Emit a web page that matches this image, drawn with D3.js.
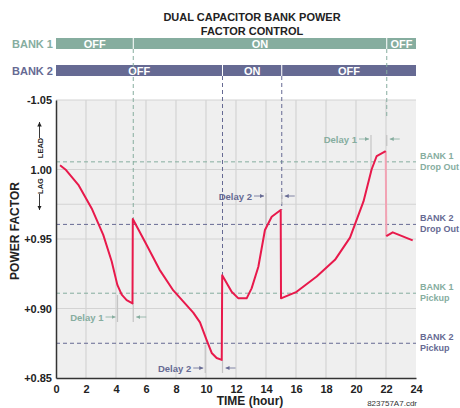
<!DOCTYPE html>
<html>
<head>
<meta charset="utf-8">
<script src="https://cdn.jsdelivr.net/npm/d3@7"></script>
<style>
  body { margin: 0; background: #fff; }
  svg { display: block; font-family: "Liberation Sans", Arial, sans-serif; }
</style>
</head>
<body>
<svg id="chart" width="460" height="408"></svg>
<script>
// Curve before the bank 1 drop out at 22h
const hoursA = [0.27, 0.67, 1.49, 2.38, 3.15, 3.71, 4.09, 4.38, 4.71, 5.1, 5.12, 5.93, 6.9, 7.82, 9.15, 9.6, 10.05, 10.38, 10.71, 11.05,
  11.08, 11.71, 12.16, 12.71, 13.04, 13.49, 13.93, 14.38, 14.98, 15.0, 16.04, 17.38, 18.6, 19.6, 20.5, 21.04, 21.38, 21.98];
const pfA = [1.003, 0.9996, 0.989, 0.972, 0.953, 0.934, 0.917, 0.910, 0.906, 0.9037, 0.9644, 0.948, 0.928, 0.913, 0.897, 0.890, 0.877, 0.868, 0.8644, 0.863,
  0.924, 0.912, 0.9073, 0.9073, 0.9145, 0.930, 0.9565, 0.966, 0.9709, 0.9073, 0.912, 0.923, 0.935, 0.951, 0.977, 1.0, 1.0097, 1.0133];
// Curve after the drop
const hoursB = [22.02, 22.45, 23.78];
const pfB = [0.952, 0.9548, 0.949];

// threshold levels
const thresholdNames = [["BANK 1", "Drop Out"], ["BANK 2", "Drop Out"], ["BANK 1", "Pickup"], ["BANK 2", "Pickup"]];
const thresholdValues = [1.0055, 0.9605, 0.911, 0.875];
const thresholdBank = [1, 2, 1, 2];

// bank state bars
const bank1Starts = [0, 5.15, 22.05];
const bank1Ends = [5.15, 22.05, 24];
const bank1States = ["OFF", "ON", "OFF"];
const bank2Starts = [0, 11.1, 15.05];
const bank2Ends = [11.1, 15.05, 24];
const bank2States = ["OFF", "ON", "OFF"];

// delays: [start, end]
const delayNames = ["Delay 1", "Delay 2", "Delay 2", "Delay 1"];
const delayStarts = [4.1, 9.95, 14.0, 21.0];
const delayEnds = [5.15, 11.1, 15.05, 22.05];

const xTicks = [0, 2, 4, 6, 8, 10, 12, 14, 16, 18, 20, 22, 24];
const yTicks = [1.05, 1.0, 0.95, 0.90, 0.85];
const yTickLabels = ["-1.05", "1.00", "+0.95", "+0.90", "+0.85"];
const yGrid = [1.05, 1.0, 0.975, 0.95, 0.90];

const GREEN = "#86ad9f";
const BLUE = "#666a93";
const RED = "#e8194b";
const GRID = "#d3d3d3";

const svg = d3.select("#chart");
const margin = { top: 100, right: 44, bottom: 30, left: 56 };
const width = 460 - margin.left - margin.right;
const height = 408 - margin.top - margin.bottom;

const x = d3.scaleLinear().domain([0, 24]).range([margin.left, margin.left + width]);
const y = d3.scaleLinear().domain([0.85, 1.05]).range([margin.top + height, margin.top]);

// Title
svg.append("text").attr("x", 252).attr("y", 21).attr("text-anchor", "middle")
  .attr("font-size", 11).attr("font-weight", "bold").attr("fill", "#222")
  .text("DUAL CAPACITOR BANK POWER");
svg.append("text").attr("x", 252).attr("y", 35).attr("text-anchor", "middle")
  .attr("font-size", 11).attr("font-weight", "bold").attr("fill", "#222")
  .text("FACTOR CONTROL");

// Plot background + grid
svg.append("rect").attr("x", x(0)).attr("y", y(1.05)).attr("width", width).attr("height", height).attr("fill", "#efefef");

svg.append("g").selectAll("line").data(xTicks.slice(1, -1)).join("line")
  .attr("x1", (d) => x(d)).attr("x2", (d) => x(d))
  .attr("y1", y(1.05)).attr("y2", y(0.85))
  .attr("stroke", GRID).attr("stroke-width", 1.2);

svg.append("g").selectAll("line").data(yGrid).join("line")
  .attr("x1", x(0)).attr("x2", x(24))
  .attr("y1", (d) => y(d)).attr("y2", (d) => y(d))
  .attr("stroke", GRID).attr("stroke-width", 1.2);

// Bank bars
function drawBank(starts, ends, states, top, color, label) {
  const g = svg.append("g");
  g.append("text").attr("x", 12).attr("y", top + 10).attr("font-size", 11.5).attr("font-weight", "bold")
    .attr("textLength", 41).attr("lengthAdjust", "spacingAndGlyphs")
    .attr("fill", color).text(label);
  g.selectAll("rect").data(starts).join("rect")
    .attr("x", (d) => x(d)).attr("y", top)
    .attr("width", (d, i) => x(ends[i]) - x(d)).attr("height", 11)
    .attr("fill", color);
  g.selectAll(".state").data(states).join("text")
    .attr("x", (d, i) => (x(starts[i]) + x(ends[i])) / 2).attr("y", top + 9.5)
    .attr("text-anchor", "middle").attr("font-size", 11).attr("font-weight", "bold")
    .attr("fill", "#fff").text((d) => d);
  g.selectAll(".sep").data(starts.slice(1)).join("line")
    .attr("x1", (d) => x(d)).attr("x2", (d) => x(d))
    .attr("y1", top).attr("y2", top + 11)
    .attr("stroke", "#fff").attr("stroke-width", 1);
}
drawBank(bank1Starts, bank1Ends, bank1States, 38, GREEN, "BANK 1");
drawBank(bank2Starts, bank2Ends, bank2States, 65, BLUE, "BANK 2");

// Threshold dashed lines and labels
thresholdValues.forEach((v, i) => {
  const c = thresholdBank[i] === 1 ? GREEN : BLUE;
  svg.append("line").attr("x1", x(0)).attr("x2", x(24)).attr("y1", y(v)).attr("y2", y(v))
    .attr("stroke", c).attr("stroke-width", 1).attr("stroke-dasharray", "4,3");
  const t = svg.append("text").attr("x", 420).attr("font-size", 9).attr("font-weight", "bold").attr("fill", c);
  t.append("tspan").attr("x", 420).attr("y", y(v) - 3).text(thresholdNames[i][0]);
  t.append("tspan").attr("x", 420).attr("y", y(v) + 8).text(thresholdNames[i][1]);
});

// Vertical dashed switching lines
const switchLines = [
  { h: 5.15, from: 49, to: y(0.9644), c: GREEN },
  { h: 22.05, from: 49, to: y(1.038), c: GREEN },
  { h: 11.1, from: 76, to: y(0.924), c: BLUE },
  { h: 15.05, from: 76, to: y(0.9709), c: BLUE }
];
svg.append("g").selectAll("line").data(switchLines).join("line")
  .attr("x1", (d) => x(d.h)).attr("x2", (d) => x(d.h))
  .attr("y1", (d) => d.from).attr("y2", (d) => d.to)
  .attr("stroke", (d) => d.c).attr("stroke-width", 1).attr("stroke-dasharray", "4,3");

// Delay annotations
const delayLayout = [
  { ty: 317, c: GREEN, t1: [295, 322], t2: [303, 322] },
  { ty: 368, c: BLUE, t1: [345, 373], t2: [360, 373] },
  { ty: 196, c: BLUE, t1: [193, 224], t2: [193, 204] },
  { ty: 139, c: GREEN, t1: [135, 172], t2: [135, 146] }
];
const defs = svg.append("defs");
defs.selectAll("marker").data([GREEN, BLUE, "#222"]).join("marker")
  .attr("id", (d, i) => "ah" + i).attr("viewBox", "0 0 6 6").attr("refX", 6).attr("refY", 3)
  .attr("markerWidth", 5).attr("markerHeight", 5).attr("orient", "auto")
  .append("path").attr("d", "M0,0L6,3L0,6Z").attr("fill", (d) => d);

delayNames.forEach((name, i) => {
  const L = delayLayout[i];
  const xs = x(delayStarts[i]);
  const xe = x(delayEnds[i]);
  const mk = L.c === GREEN ? "url(#ah0)" : "url(#ah1)";
  svg.append("line").attr("x1", xs).attr("x2", xs).attr("y1", L.t1[0]).attr("y2", L.t1[1])
    .attr("stroke", "#c4c4c4").attr("stroke-width", 1.2);
  svg.append("line").attr("x1", xe).attr("x2", xe).attr("y1", L.t2[0]).attr("y2", L.t2[1])
    .attr("stroke", "#c4c4c4").attr("stroke-width", 1.2);
  svg.append("text").attr("x", xs - 14).attr("y", L.ty + 3.5).attr("text-anchor", "end")
    .attr("font-size", 9.5).attr("font-weight", "bold").attr("fill", L.c).text(name);
  svg.append("line").attr("x1", xs - 12).attr("x2", xs - 2).attr("y1", L.ty).attr("y2", L.ty)
    .attr("stroke", L.c).attr("stroke-width", 0.8).attr("marker-end", mk);
  svg.append("line").attr("x1", xe + 13).attr("x2", xe + 3).attr("y1", L.ty).attr("y2", L.ty)
    .attr("stroke", L.c).attr("stroke-width", 0.8).attr("marker-end", mk);
});

// Power factor curve
const line = d3.line().x((d) => x(d[0])).y((d) => y(d[1]));
const segA = hoursA.map((h, i) => [h, pfA[i]]);
const segB = hoursB.map((h, i) => [h, pfB[i]]);
svg.append("path").datum([segA[segA.length - 1], segB[0]])
  .attr("fill", "none").attr("stroke", "#f2a3b4").attr("stroke-width", 2).attr("d", line);
svg.append("path").datum(segA).attr("fill", "none").attr("stroke", RED)
  .attr("stroke-width", 2).attr("stroke-linejoin", "round").attr("d", line);
svg.append("path").datum(segB).attr("fill", "none").attr("stroke", RED)
  .attr("stroke-width", 2).attr("stroke-linejoin", "round").attr("d", line);

// Axes
const xAxis = d3.axisBottom(x).tickValues(xTicks).tickSize(0).tickPadding(7).tickFormat(d3.format("d"));
const gx = svg.append("g").attr("transform", `translate(0,${y(0.85)})`).call(xAxis);
gx.select(".domain").attr("stroke", "#333").attr("stroke-width", 1.5);
gx.selectAll("text").attr("font-size", 11).attr("font-weight", "bold").attr("fill", "#222")
  .attr("font-family", "Liberation Sans, Arial, sans-serif");

const yAxis = d3.axisLeft(y).tickValues(yTicks).tickSize(0).tickPadding(4)
  .tickFormat((d, i) => yTickLabels[i]);
const gy = svg.append("g").attr("transform", `translate(${x(0)},0)`).call(yAxis);
gy.select(".domain").attr("stroke", "#333").attr("stroke-width", 1.5);
gy.selectAll("text").attr("font-size", 11).attr("font-weight", "bold").attr("fill", "#222")
  .attr("font-family", "Liberation Sans, Arial, sans-serif");

// Axis titles
svg.append("text").attr("transform", "translate(19,231) rotate(-90)").attr("text-anchor", "middle")
  .attr("font-size", 12).attr("font-weight", "bold").attr("fill", "#222").text("POWER FACTOR");

// lead / lag markers
svg.append("text").attr("transform", "translate(42.5,148) rotate(-90)").attr("text-anchor", "middle")
  .attr("font-size", 7.5).attr("font-weight", "bold").attr("fill", "#222").text("LEAD");
svg.append("line").attr("x1", 39.5).attr("x2", 39.5).attr("y1", 138).attr("y2", 122)
  .attr("stroke", "#222").attr("stroke-width", 0.9).attr("marker-end", "url(#ah2)");
svg.append("text").attr("transform", "translate(42.5,186) rotate(-90)").attr("text-anchor", "middle")
  .attr("font-size", 7.5).attr("font-weight", "bold").attr("fill", "#222").text("LAG");
svg.append("line").attr("x1", 39.5).attr("x2", 39.5).attr("y1", 194).attr("y2", 210)
  .attr("stroke", "#222").attr("stroke-width", 0.9).attr("marker-end", "url(#ah2)");

svg.append("text").attr("x", 250).attr("y", 405).attr("text-anchor", "middle")
  .attr("font-size", 12).attr("font-weight", "bold").attr("fill", "#222").text("TIME (hour)");
svg.append("text").attr("x", 417).attr("y", 406).attr("text-anchor", "end")
  .attr("font-size", 8).attr("fill", "#333").text("823757A7.cdr");
</script>
</body>
</html>
